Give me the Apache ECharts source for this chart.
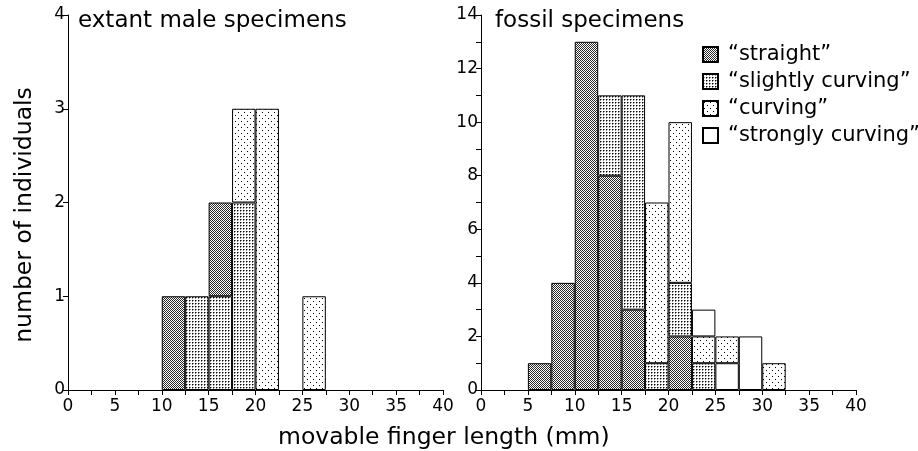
<!DOCTYPE html>
<html>
<head>
<meta charset="utf-8" />
<title>movable finger length</title>
<script src="https://cdn.jsdelivr.net/npm/echarts@6/dist/echarts.min.js"></script>
<style>
  html, body { margin: 0; padding: 0; background: #fff; }
  #chart { width: 918px; height: 451px; }
</style>
</head>
<body>
<div id="chart"></div>
<script>
// bins of 2.5 mm, 0 - 40
var bins = ['0','2.5','5','7.5','10','12.5','15','17.5','20','22.5','25','27.5','30','32.5','35','37.5'];

// extant male specimens
var extStraight = [0,0,0,0,1,0,1,0,0,0,0,0,0,0,0,0];
var extSlightly = [0,0,0,0,0,1,1,2,0,0,0,0,0,0,0,0];
var extCurving  = [0,0,0,0,0,0,0,1,3,0,1,0,0,0,0,0];

// fossil specimens
var fosStraight = [0,0,1,4,13,8,3,0,2,0,0,0,0,0,0,0];
var fosSlightly = [0,0,0,0,0,3,8,1,2,1,0,0,0,0,0,0];
var fosCurving  = [0,0,0,0,0,0,0,6,6,1,1,0,1,0,0,0];
// "strongly curving" drawn under the curving part in some bins, on top in others
var fosStronglyLow = [0,0,0,0,0,0,0,0,0,0,1,2,0,0,0,0];
var fosStronglyTop = [0,0,0,0,0,0,0,0,0,1,0,0,0,0,0,0];

var names = ['“straight”', '“slightly curving”', '“curving”', '“strongly curving”'];

// fill patterns
function pattern(w, h, bg, dots){
	var c = document.createElement('canvas');
	c.width = w; c.height = h;
	var ctx = c.getContext('2d');
	ctx.fillStyle = bg;
	ctx.fillRect(0, 0, w, h);
	for (var i = 0; i < dots.length; i++) {
		ctx.fillStyle = dots[i][2];
		ctx.fillRect(dots[i][0], dots[i][1], 1, 1);
	}
	return { image: c, repeat: 'repeat' };
}
var fills = {};
fills[names[0]] = pattern(2, 2, '#fff', [[0,0,'#2a2a2a'],[1,1,'#2a2a2a']]);
fills[names[1]] = pattern(3, 3, '#fff', [[0,0,'#000'],[1,0,'#888'],[0,1,'#888']]);
fills[names[2]] = pattern(6, 6, '#fff', [[1,1,'#000'],[4,4,'#000']]);
fills[names[3]] = '#fff';

function nz(arr){
	return arr.map(function(v){ return v ? v : '-'; });
}
function bar(name, data, axis, stack){
	return {
		name: name,
		type: 'bar',
		xAxisIndex: axis,
		yAxisIndex: axis,
		stack: stack,
		barCategoryGap: '0%',
		data: nz(data),
		itemStyle: { color: fills[name], borderColor: '#000', borderWidth: 1 },
		emphasis: { disabled: true }
	};
}

var FONT = '"DejaVu Sans"';
var tickFont = { fontFamily: 'DejaVu Sans', fontSize: 17, color: '#000' };

function valueX(grid){
	return {
		type: 'value', gridIndex: grid, position: 'bottom', min: 0, max: 40, interval: 5,
		axisLine: { show: true, onZero: false, lineStyle: { color: '#000', width: 1 } },
		axisTick: { show: true, length: 5, lineStyle: { color: '#000' } },
		minorTick: { show: true, splitNumber: 2, length: 5, lineStyle: { color: '#000' } },
		splitLine: { show: false },
		axisLabel: Object.assign({ margin: 8 }, tickFont)
	};
}
function catX(grid){
	return { type: 'category', gridIndex: grid, position: 'bottom', data: bins, show: false, boundaryGap: true };
}
function valueY(grid, max, interval, minor){
	return {
		type: 'value', gridIndex: grid, position: 'left', min: 0, max: max, interval: interval,
		axisLine: { show: true, lineStyle: { color: '#000', width: 1 } },
		axisTick: { show: true, length: 5, lineStyle: { color: '#000' } },
		minorTick: { show: minor, splitNumber: 2, length: 5, lineStyle: { color: '#000' } },
		splitLine: { show: false },
		axisLabel: Object.assign({ margin: 3 }, tickFont)
	};
}

var myChart = echarts.init(document.getElementById('chart'), null, { renderer: 'canvas' });
var option = {
	animation: false,
	backgroundColor: '#fff',
	grid: [
		{ left: 68, top: 15, width: 375, height: 375 },
		{ left: 481, top: 15, width: 375, height: 375 }
	],
	xAxis: [catX(0), catX(1), valueX(0), valueX(1)],
	yAxis: [valueY(0, 4, 1, false), valueY(1, 14, 2, true)],
	legend: {
		orient: 'vertical', left: 697, top: 39,
		itemWidth: 15, itemHeight: 15, itemGap: 6,
		icon: 'rect',
		selectedMode: false,
		data: names,
		textStyle: { fontFamily: 'DejaVu Sans', fontSize: 21, color: '#000', padding: [0, 0, 0, 5] }
	},
	graphic: [
		{ type: 'text', left: 78, top: 10, style: { text: 'extant male specimens', font: '23px ' + FONT, fill: '#000' } },
		{ type: 'text', left: 495, top: 10, style: { text: 'fossil specimens', font: '23px ' + FONT, fill: '#000' } },
		{ type: 'text', left: 278, top: 426, style: { text: 'movable finger length (mm)', font: '23.5px ' + FONT, fill: '#000' } },
		{ type: 'text', x: 25, y: 215, rotation: Math.PI / 2,
		  style: { text: 'number of individuals', font: '23.5px ' + FONT, fill: '#000', align: 'center', verticalAlign: 'middle' } }
	],
	series: [
		bar(names[1], extSlightly, 0, 'ext'),
		bar(names[0], extStraight, 0, 'ext'),
		bar(names[2], extCurving, 0, 'ext'),
		bar(names[0], fosStraight, 1, 'fos'),
		bar(names[1], fosSlightly, 1, 'fos'),
		bar(names[3], fosStronglyLow, 1, 'fos'),
		bar(names[2], fosCurving, 1, 'fos'),
		bar(names[3], fosStronglyTop, 1, 'fos')
	]
};
myChart.setOption(option);
</script>
</body>
</html>
